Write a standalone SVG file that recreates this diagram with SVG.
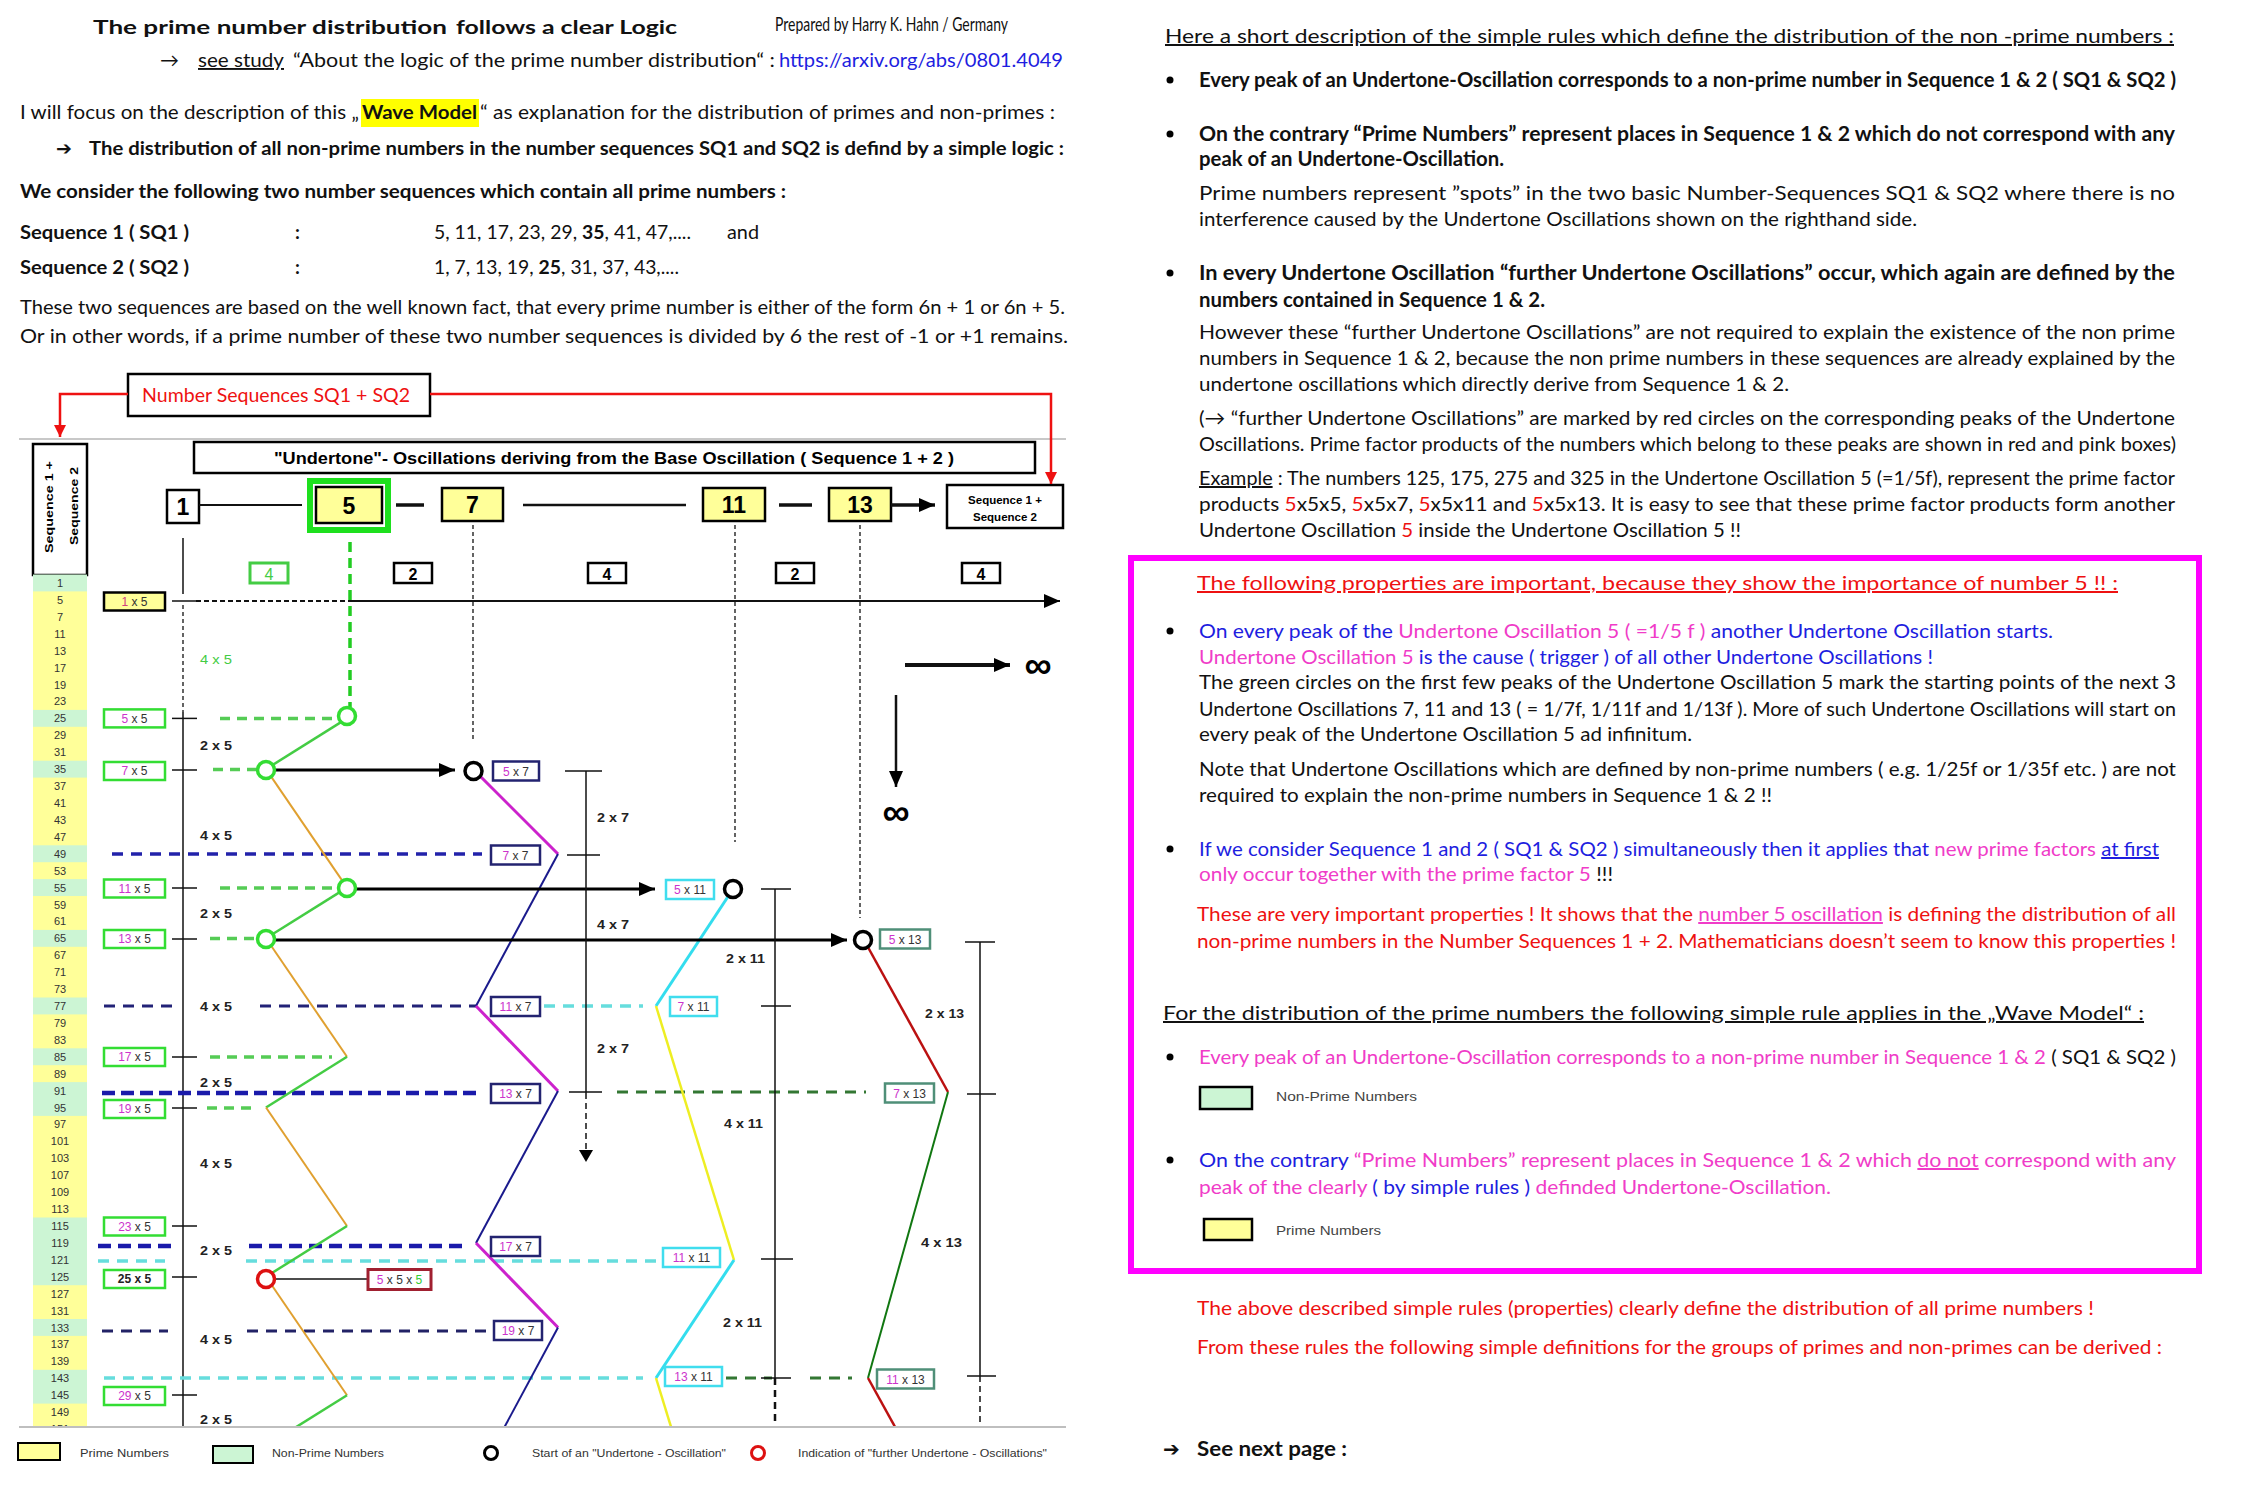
<svg xmlns="http://www.w3.org/2000/svg" width="2241" height="1490" viewBox="0 0 2241 1490">
<defs>
<style>
.t{font-family:Lato,"DejaVu Sans",sans-serif;font-size:19px;fill:#111}
.r{font-family:Lato,"DejaVu Sans",sans-serif;font-size:20px;fill:#111}
.b{font-weight:bold}
.u{text-decoration:underline}
.a{font-family:"Liberation Sans",Arial,sans-serif}
.lbl{font-family:"Liberation Sans",Arial,sans-serif;font-size:13.5px;font-weight:bold;fill:#222}
.pb{font-family:"Liberation Sans",Arial,sans-serif;font-size:12px;fill:#333;text-anchor:middle}
.pk{fill:#CC33CC}
.blu{fill:#1E1EE0}
.mag{fill:#F03CC8}
.red{fill:#EE1111}
.bx5{fill:#fff;stroke:#33DD33;stroke-width:2.5}
.bx7{fill:#fff;stroke:#232370;stroke-width:2.5}
.bx11{fill:#fff;stroke:#40DDEE;stroke-width:2.5}
.bx13{fill:#fff;stroke:#4F8F78;stroke-width:2.5}
.kb{fill:#FFFF99;stroke:#000;stroke-width:2.5}
.sb{fill:#fff;stroke:#000;stroke-width:2.5}
.tick{stroke:#111;stroke-width:1.5}
.vl{stroke:#111;stroke-width:1.5;fill:none}
.dl{stroke:#111;stroke-width:1.3;stroke-dasharray:4 3;fill:none}
.gd{stroke:#55CC55;stroke-width:3.5;stroke-dasharray:10 7;fill:none}
.nd{stroke:#2222AA;stroke-width:3.5;stroke-dasharray:11 8;fill:none}
.cd{stroke:#66DDDD;stroke-width:3.5;stroke-dasharray:11 8;fill:none}
.dgd{stroke:#337733;stroke-width:3;stroke-dasharray:11 8;fill:none}
.ring{fill:#fff;stroke:#000;stroke-width:3.5}
.gring{fill:#fff;stroke:#33DD33;stroke-width:3.5}
.rring{fill:#fff;stroke:#DD1111;stroke-width:3.5}
.yel{fill:#FFFF99}
.grn{fill:#CCF5D4}
</style>
<marker id="ah" markerUnits="userSpaceOnUse" markerWidth="16" markerHeight="14" refX="16" refY="7" orient="auto"><path d="M0,0L16,7L0,14z" fill="#000"/></marker>
<marker id="ahs" markerUnits="userSpaceOnUse" markerWidth="12" markerHeight="14" refX="12" refY="7" orient="auto"><path d="M0,0L12,7L0,14z" fill="#000"/></marker>
<marker id="ahr" markerUnits="userSpaceOnUse" markerWidth="12" markerHeight="16" refX="12" refY="8" orient="auto"><path d="M0,2L12,8L0,14z" fill="#EE1111"/></marker>
<clipPath id="clipd"><rect x="0" y="430" width="1100" height="996"/></clipPath>
</defs>
<rect width="2241" height="1490" fill="#fff"/>

<!-- LEFT TEXT -->
<g id="left-text">
<text class="t b" x="93" y="34" font-size="25" textLength="354" lengthAdjust="spacingAndGlyphs">The prime number distribution</text>
<text class="t b" x="456" y="34" font-size="25" textLength="221" lengthAdjust="spacingAndGlyphs">follows a clear Logic</text>
<text class="t" x="775" y="31" font-size="12" textLength="233" lengthAdjust="spacingAndGlyphs">Prepared by Harry K. Hahn / Germany</text>
<text class="t" x="160" y="67" font-size="19">→</text>
<text class="t u" x="198" y="67" textLength="86" lengthAdjust="spacingAndGlyphs">see study</text>
<text class="t" x="293" y="67" textLength="482" lengthAdjust="spacingAndGlyphs">“About the logic of the prime number distribution“ :</text>
<text class="t" x="779" y="67" textLength="284" lengthAdjust="spacingAndGlyphs" style="fill:#1E1EE0">https://arxiv.org/abs/0801.4049</text>
<rect x="361" y="99" width="118" height="28" fill="#FFFF00"/>
<text class="t" x="20" y="119" textLength="339" lengthAdjust="spacingAndGlyphs">I will focus on the description of this „</text>
<text class="t b" x="362" y="119" textLength="115" lengthAdjust="spacingAndGlyphs">Wave Model</text>
<text class="t" x="480" y="119" textLength="575" lengthAdjust="spacingAndGlyphs">“ as explanation for the distribution of primes and non-primes :</text>
<text class="t b" x="56" y="155" font-size="19">➔</text>
<text class="t b" x="89" y="155" textLength="975" lengthAdjust="spacingAndGlyphs">The distribution of all non-prime numbers in the number sequences SQ1 and SQ2 is defind by a simple logic :</text>
<text class="t b" x="20" y="198" textLength="766" lengthAdjust="spacingAndGlyphs">We consider the following two number sequences which contain all prime numbers :</text>
<text class="t b" x="20" y="239" textLength="169" lengthAdjust="spacingAndGlyphs">Sequence 1 ( SQ1 )</text>
<text class="t b" x="295" y="239">:</text>
<text class="t" x="434" y="239" textLength="257" lengthAdjust="spacingAndGlyphs">5, 11, 17, 23, 29, <tspan class="b">35</tspan>, 41, 47,....</text>
<text class="t" x="727" y="239" textLength="32" lengthAdjust="spacingAndGlyphs">and</text>
<text class="t b" x="20" y="274" textLength="169" lengthAdjust="spacingAndGlyphs">Sequence 2 ( SQ2 )</text>
<text class="t b" x="295" y="274">:</text>
<text class="t" x="434" y="274" textLength="245" lengthAdjust="spacingAndGlyphs">1, 7, 13, 19, <tspan class="b">25</tspan>, 31, 37, 43,....</text>
<text class="t" x="20" y="314" textLength="1045" lengthAdjust="spacingAndGlyphs">These two sequences are based on the well known fact, that every prime number is either of the form  6n + 1  or  6n + 5.</text>
<text class="t" x="20" y="343" textLength="1048" lengthAdjust="spacingAndGlyphs">Or in other words, if a  prime number of these two number sequences is divided by 6 the rest of -1 or +1 remains.</text>
</g>

<!-- DIAGRAM -->
<g id="header-nodes">
<g id="node-numseq">
<rect class="sb" x="128" y="374" width="302" height="42" stroke-width="3.5"/>
<text class="t" x="142" y="402" font-size="19" textLength="268" lengthAdjust="spacingAndGlyphs" style="fill:#EE1111">Number Sequences SQ1 + SQ2</text>
</g>
<line x1="19" y1="439" x2="1066" y2="439" stroke="#C8C8C8" stroke-width="2"/>
<g id="node-undertone">
<rect class="sb" x="194" y="442" width="841" height="31" stroke-width="3"/>
<text class="a b" x="274" y="464" font-size="17" textLength="680" lengthAdjust="spacingAndGlyphs">"Undertone"- Oscillations deriving from the Base Oscillation ( Sequence 1 + 2 )</text>
</g>
<g id="node-seqcol">
<rect class="sb" x="33" y="444" width="54" height="131"/>
<text class="a b" font-size="11" transform="translate(53,553) rotate(-90)" textLength="92" lengthAdjust="spacingAndGlyphs">Sequence  1  +</text>
<text class="a b" font-size="11" transform="translate(78,545) rotate(-90)" textLength="78" lengthAdjust="spacingAndGlyphs">Sequence  2</text>
</g>
<g id="node-b1"><rect class="sb" x="167" y="490" width="32" height="33"/><text class="a b" x="183" y="515" font-size="23" text-anchor="middle">1</text></g>
<g id="node-b5">
<rect x="307" y="478" width="84" height="55" fill="#1EE01E"/>
<rect x="313" y="484" width="72" height="43" fill="#fff"/>
<rect class="kb" x="316" y="487" width="66" height="36"/>
<text class="a b" x="349" y="514" font-size="23" text-anchor="middle">5</text>
</g>
<g id="node-b7"><rect class="kb" x="442" y="488" width="61" height="33"/><text class="a b" x="472.5" y="513" font-size="23" text-anchor="middle">7</text></g>
<g id="node-b11"><rect class="kb" x="703" y="488" width="62" height="33"/><text class="a b" x="734" y="513" font-size="23" text-anchor="middle">11</text></g>
<g id="node-b13"><rect class="kb" x="829" y="488" width="62" height="33"/><text class="a b" x="860" y="513" font-size="23" text-anchor="middle">13</text></g>
<g id="node-seq12"><rect class="sb" x="947" y="485" width="116" height="43"/>
<text class="a b" x="1005" y="504" font-size="11.5" text-anchor="middle">Sequence  1  +</text>
<text class="a b" x="1005" y="521" font-size="11.5" text-anchor="middle">Sequence  2</text></g>
<g id="gaps">
<rect x="250" y="563" width="38" height="20" fill="#fff" stroke="#44CC44" stroke-width="3"/><text class="a" x="269" y="580" font-size="16" text-anchor="middle" fill="#44CC44">4</text>
<rect class="sb" x="394" y="563" width="38" height="20"/><text class="a b" x="413" y="580" font-size="16" text-anchor="middle">2</text>
<rect class="sb" x="588" y="563" width="38" height="20"/><text class="a b" x="607" y="580" font-size="16" text-anchor="middle">4</text>
<rect class="sb" x="776" y="563" width="38" height="20"/><text class="a b" x="795" y="580" font-size="16" text-anchor="middle">2</text>
<rect class="sb" x="962" y="563" width="38" height="20"/><text class="a b" x="981" y="580" font-size="16" text-anchor="middle">4</text>
</g>
</g>

<g id="numcol">
<rect class="yel" x="33" y="575" width="54" height="851"/>
<rect class="grn" x="33" y="574.5" width="54" height="16.9"/>
<rect class="grn" x="33" y="709.9" width="54" height="16.9"/>
<rect class="grn" x="33" y="760.7" width="54" height="16.9"/>
<rect class="grn" x="33" y="845.3" width="54" height="16.9"/>
<rect class="grn" x="33" y="879.1" width="54" height="16.9"/>
<rect class="grn" x="33" y="929.9" width="54" height="16.9"/>
<rect class="grn" x="33" y="997.5" width="54" height="16.9"/>
<rect class="grn" x="33" y="1048.3" width="54" height="16.9"/>
<rect class="grn" x="33" y="1082.1" width="54" height="33.8"/>
<rect class="grn" x="33" y="1217.5" width="54" height="67.7"/>
<rect class="grn" x="33" y="1319.0" width="54" height="16.9"/>
<rect class="grn" x="33" y="1369.8" width="54" height="33.8"/>
<g class="a" font-size="11" fill="#333" text-anchor="middle" clip-path="url(#clipd)">
<text x="60" y="587">1</text><text x="60" y="603.9">5</text><text x="60" y="620.8">7</text><text x="60" y="637.8">11</text><text x="60" y="654.7">13</text><text x="60" y="671.6">17</text><text x="60" y="688.5">19</text><text x="60" y="705.4">23</text><text x="60" y="722.4">25</text><text x="60" y="739.3">29</text><text x="60" y="756.2">31</text><text x="60" y="773.1">35</text><text x="60" y="790">37</text><text x="60" y="807">41</text><text x="60" y="823.9">43</text><text x="60" y="840.8">47</text><text x="60" y="857.7">49</text><text x="60" y="874.6">53</text><text x="60" y="891.6">55</text><text x="60" y="908.5">59</text><text x="60" y="925.4">61</text><text x="60" y="942.3">65</text><text x="60" y="959.2">67</text><text x="60" y="976.2">71</text><text x="60" y="993.1">73</text><text x="60" y="1010">77</text><text x="60" y="1026.9">79</text><text x="60" y="1043.8">83</text><text x="60" y="1060.8">85</text><text x="60" y="1077.7">89</text><text x="60" y="1094.6">91</text><text x="60" y="1111.5">95</text><text x="60" y="1128.4">97</text><text x="60" y="1145.4">101</text><text x="60" y="1162.3">103</text><text x="60" y="1179.2">107</text><text x="60" y="1196.1">109</text><text x="60" y="1213">113</text><text x="60" y="1230">115</text><text x="60" y="1246.9">119</text><text x="60" y="1263.8">121</text><text x="60" y="1280.7">125</text><text x="60" y="1297.6">127</text><text x="60" y="1314.6">131</text><text x="60" y="1331.5">133</text><text x="60" y="1348.4">137</text><text x="60" y="1365.3">139</text><text x="60" y="1382.2">143</text><text x="60" y="1399.2">145</text><text x="60" y="1416.1">149</text><text x="60" y="1433">151</text>
</g>
</g>

<g id="connectors">
<polyline points="128,394 60,394 60,437" fill="none" stroke="#EE1111" stroke-width="2.5" marker-end="url(#ahr)"/>
<polyline points="430,394 1051,394 1051,484" fill="none" stroke="#EE1111" stroke-width="2.5" marker-end="url(#ahr)"/>
<g clip-path="url(#clipd)">
<line x1="199" y1="505" x2="302" y2="505" stroke="#111" stroke-width="2"/>
<line x1="396" y1="505" x2="424" y2="505" stroke="#111" stroke-width="3.5"/>
<line x1="523" y1="505" x2="686" y2="505" stroke="#111" stroke-width="2.5"/>
<line x1="779" y1="505" x2="812" y2="505" stroke="#111" stroke-width="3.5"/>
<line x1="891" y1="505" x2="935" y2="505" stroke="#111" stroke-width="3.5" marker-end="url(#ah)"/>
<line class="vl" x1="183" y1="538" x2="183" y2="594"/>
<line class="dl" x1="183" y1="605" x2="183" y2="712"/>
<line class="vl" x1="183" y1="712" x2="183" y2="1426"/>
<line x1="350" y1="542" x2="350" y2="707" stroke="#22CC22" stroke-width="3.5" stroke-dasharray="10 6"/>
<line class="dl" x1="473" y1="525" x2="473" y2="742"/>
<line class="dl" x1="735" y1="525" x2="735" y2="842"/>
<line class="dl" x1="860" y1="525" x2="860" y2="918"/>
<line x1="196" y1="601" x2="350" y2="601" stroke="#111" stroke-width="2" stroke-dasharray="5 3"/>
<line x1="350" y1="601" x2="1060" y2="601" stroke="#111" stroke-width="2" marker-end="url(#ah)"/>
<line x1="905" y1="665" x2="1010" y2="665" stroke="#111" stroke-width="4" marker-end="url(#ah)"/>
<line x1="896" y1="695" x2="896" y2="787" stroke="#111" stroke-width="2.5" marker-end="url(#ah)"/>
<g class="tick">
<line x1="172" y1="601" x2="197" y2="601"/><line x1="172" y1="718.4" x2="197" y2="718.4"/><line x1="172" y1="770" x2="197" y2="770"/><line x1="172" y1="888" x2="197" y2="888"/><line x1="172" y1="939" x2="197" y2="939"/><line x1="172" y1="1057" x2="197" y2="1057"/><line x1="172" y1="1108" x2="197" y2="1108"/><line x1="172" y1="1226" x2="197" y2="1226"/><line x1="172" y1="1277" x2="197" y2="1277"/><line x1="172" y1="1395" x2="197" y2="1395"/>
</g>
<line class="gd" x1="220" y1="718.4" x2="337" y2="718.4"/>
<line class="gd" x1="213" y1="769.5" x2="257" y2="769.5"/>
<line class="gd" x1="220" y1="888" x2="337" y2="888"/>
<line class="gd" x1="210" y1="938.5" x2="257" y2="938.5"/>
<line class="gd" x1="210" y1="1057" x2="332" y2="1057"/>
<line class="gd" x1="207" y1="1108" x2="258" y2="1108"/>
<line class="nd" x1="112" y1="854" x2="482" y2="854" stroke-width="3"/>
<line class="nd" x1="104" y1="1006" x2="172" y2="1006" style="stroke:#222277;stroke-width:3"/>
<line class="nd" x1="260" y1="1006" x2="477" y2="1006" style="stroke:#222277;stroke-width:3"/>
<line class="nd" x1="102" y1="1093" x2="482" y2="1093" style="stroke:#1A1AAA;stroke-width:4.5;stroke-dasharray:13 6"/>
<line class="nd" x1="98" y1="1246" x2="172" y2="1246" style="stroke:#1A1AAA;stroke-width:4.5;stroke-dasharray:13 7"/>
<line class="nd" x1="249" y1="1246" x2="462" y2="1246" style="stroke:#1A1AAA;stroke-width:4.5;stroke-dasharray:13 7"/>
<line class="nd" x1="102" y1="1331" x2="168" y2="1331" style="stroke:#222266;stroke-width:3"/>
<line class="nd" x1="247" y1="1331" x2="490" y2="1331" style="stroke:#222266;stroke-width:3"/>
<line class="cd" x1="544" y1="1006" x2="643" y2="1006"/>
<line class="cd" x1="98" y1="1261" x2="165" y2="1261"/>
<line class="cd" x1="246" y1="1261" x2="663" y2="1261"/>
<line class="cd" x1="104" y1="1378" x2="643" y2="1378"/>
<line class="dgd" x1="617" y1="1092" x2="866" y2="1092"/>
<line class="dgd" x1="726" y1="1378" x2="772" y2="1378"/>
<line class="dgd" x1="810" y1="1378" x2="852" y2="1378"/>
<g stroke-width="2.5" fill="none">
<line x1="347" y1="718.4" x2="266" y2="769.1" stroke="#44CC44"/>
<line x1="266" y1="769.1" x2="347" y2="887.6" stroke="#E0A030" stroke-width="2"/>
<line x1="347" y1="887.6" x2="266" y2="938.3" stroke="#44CC44"/>
<line x1="266" y1="938.3" x2="347" y2="1056.8" stroke="#E0A030" stroke-width="2"/>
<line x1="347" y1="1056.8" x2="266" y2="1107.5" stroke="#44CC44"/>
<line x1="266" y1="1107.5" x2="347" y2="1226" stroke="#E0A030" stroke-width="2"/>
<line x1="347" y1="1226" x2="266" y2="1276.7" stroke="#44CC44"/>
<line x1="266" y1="1276.7" x2="347" y2="1395.2" stroke="#E0A030" stroke-width="2"/>
<line x1="347" y1="1395.2" x2="266" y2="1445.9" stroke="#44CC44"/>
</g>
<g stroke-width="3" fill="none">
<line x1="474" y1="770" x2="558" y2="854" stroke="#CC22CC"/>
<line x1="558" y1="854" x2="476" y2="1006" stroke="#1A1A8C" stroke-width="2"/>
<line x1="476" y1="1006" x2="558" y2="1091" stroke="#CC22CC"/>
<line x1="558" y1="1091" x2="476" y2="1243" stroke="#1A1A8C" stroke-width="2"/>
<line x1="476" y1="1243" x2="558" y2="1327.5" stroke="#CC22CC"/>
<line x1="558" y1="1327.5" x2="476" y2="1480" stroke="#1A1A8C" stroke-width="2"/>
</g>
<g stroke-width="3" fill="none">
<line x1="733" y1="889" x2="656" y2="1006" stroke="#33DDEE"/>
<line x1="656" y1="1006" x2="734" y2="1260" stroke="#EEEE22" stroke-width="2.5"/>
<line x1="734" y1="1260" x2="656" y2="1378" stroke="#33DDEE"/>
<line x1="656" y1="1378" x2="734" y2="1632" stroke="#EEEE22" stroke-width="2.5"/>
</g>
<g stroke-width="2.5" fill="none">
<line x1="864" y1="940" x2="948" y2="1092" stroke="#BB1111"/>
<line x1="948" y1="1092" x2="868" y2="1378" stroke="#117711" stroke-width="2"/>
<line x1="868" y1="1378" x2="952" y2="1530" stroke="#BB1111"/>
</g>
<line x1="275" y1="770" x2="455" y2="770" stroke="#000" stroke-width="3" marker-end="url(#ah)"/>
<line x1="355" y1="889" x2="655" y2="889" stroke="#000" stroke-width="3" marker-end="url(#ah)"/>
<line x1="275" y1="940" x2="847" y2="940" stroke="#000" stroke-width="3" marker-end="url(#ah)"/>
<line class="vl" x1="586" y1="771" x2="586" y2="1093"/>
<line x1="586" y1="1093" x2="586" y2="1162" stroke="#111" stroke-width="1.5" stroke-dasharray="6 4" marker-end="url(#ahs)"/>
<line class="tick" x1="565" y1="771" x2="602" y2="771"/>
<line class="tick" x1="567" y1="855" x2="600" y2="855"/>
<line class="tick" x1="569" y1="1092" x2="602" y2="1092"/>
<line class="vl" x1="775" y1="889" x2="775" y2="1378"/>
<line x1="775" y1="1378" x2="775" y2="1426" stroke="#111" stroke-width="2.5" stroke-dasharray="7 5"/>
<line class="tick" x1="761" y1="889" x2="791" y2="889"/>
<line class="tick" x1="761" y1="1006" x2="791" y2="1006"/>
<line class="tick" x1="761" y1="1259" x2="793" y2="1259"/>
<line class="tick" x1="761" y1="1378" x2="791" y2="1378"/>
<line class="vl" x1="980" y1="942" x2="980" y2="1376"/>
<line x1="980" y1="1376" x2="980" y2="1426" stroke="#111" stroke-width="1.5" stroke-dasharray="6 4"/>
<line class="tick" x1="965" y1="942" x2="995" y2="942"/>
<line class="tick" x1="967" y1="1094" x2="996" y2="1094"/>
<line class="tick" x1="967" y1="1376" x2="996" y2="1376"/>
<line x1="274" y1="1279" x2="368" y2="1279" stroke="#111" stroke-width="1.5"/>
</g>
</g>

<g id="circles">
<circle class="gring" cx="347" cy="716" r="8.5"/>
<circle class="gring" cx="266" cy="770" r="8.5"/>
<circle class="gring" cx="347" cy="888" r="8.5"/>
<circle class="gring" cx="266" cy="939" r="8.5"/>
<circle class="rring" cx="266" cy="1279" r="8.5"/>
<circle class="ring" cx="473.5" cy="771" r="8.5"/>
<circle class="ring" cx="733" cy="889" r="8.5"/>
<circle class="ring" cx="863" cy="940" r="8.5"/>
</g>

<g id="nodes-x5">
<rect class="kb" x="104" y="592.5" width="61" height="18"/><text class="pb" x="134.5" y="606"><tspan fill="#D04080">1</tspan> x 5</text>
<rect class="bx5" x="104" y="709.4" width="61" height="18"/><text class="pb" x="134.5" y="722.8"><tspan class="pk">5</tspan> x 5</text>
<rect class="bx5" x="104" y="762" width="61" height="18"/><text class="pb" x="134.5" y="775.4"><tspan class="pk">7</tspan> x 5</text>
<rect class="bx5" x="104" y="879.5" width="61" height="18"/><text class="pb" x="134.5" y="893"><tspan class="pk">11</tspan> x 5</text>
<rect class="bx5" x="104" y="930" width="61" height="18"/><text class="pb" x="134.5" y="943.4"><tspan class="pk">13</tspan> x 5</text>
<rect class="bx5" x="104" y="1048" width="61" height="18"/><text class="pb" x="134.5" y="1061.4"><tspan class="pk">17</tspan> x 5</text>
<rect class="bx5" x="104" y="1100" width="61" height="18"/><text class="pb" x="134.5" y="1113.4"><tspan class="pk">19</tspan> x 5</text>
<rect class="bx5" x="104" y="1217.5" width="61" height="18"/><text class="pb" x="134.5" y="1230.9"><tspan class="pk">23</tspan> x 5</text>
<rect class="bx5" x="104" y="1270" width="61" height="18"/><text class="pb b" x="134.5" y="1283.4" style="fill:#222">25 x 5</text>
<rect class="bx5" x="104" y="1387" width="61" height="18"/><text class="pb" x="134.5" y="1400.4"><tspan class="pk">29</tspan> x 5</text>
</g>
<g id="nodes-x7">
<rect class="bx7" x="493" y="761.5" width="46" height="19"/><text class="pb" x="516" y="775.5"><tspan class="pk">5</tspan> x 7</text>
<rect class="bx7" x="491" y="845.5" width="49" height="19"/><text class="pb" x="515.5" y="859.5"><tspan class="pk">7</tspan> x 7</text>
<rect class="bx7" x="491" y="997" width="49" height="19"/><text class="pb" x="515.5" y="1011"><tspan class="pk">11</tspan> x 7</text>
<rect class="bx7" x="491" y="1084" width="49" height="19"/><text class="pb" x="515.5" y="1098"><tspan class="pk">13</tspan> x 7</text>
<rect class="bx7" x="491" y="1237" width="49" height="19"/><text class="pb" x="515.5" y="1251"><tspan class="pk">17</tspan> x 7</text>
<rect class="bx7" x="494" y="1321" width="48" height="19"/><text class="pb" x="518" y="1335"><tspan class="pk">19</tspan> x 7</text>
</g>
<g id="nodes-x11">
<rect class="bx11" x="666" y="880" width="48" height="19"/><text class="pb" x="690" y="894"><tspan class="pk">5</tspan> x 11</text>
<rect class="bx11" x="670" y="997" width="47" height="19"/><text class="pb" x="693.5" y="1011"><tspan class="pk">7</tspan> x 11</text>
<rect class="bx11" x="663" y="1248" width="57" height="19"/><text class="pb" x="691.5" y="1262"><tspan class="pk">11</tspan> x 11</text>
<rect class="bx11" x="665" y="1367" width="57" height="19"/><text class="pb" x="693.5" y="1381"><tspan class="pk">13</tspan> x 11</text>
</g>
<g id="nodes-x13">
<rect class="bx13" x="880" y="929.5" width="50" height="19"/><text class="pb" x="905" y="943.5"><tspan class="pk">5</tspan> x 13</text>
<rect class="bx13" x="885" y="1083.5" width="49" height="19"/><text class="pb" x="909.5" y="1097.5"><tspan class="pk">7</tspan> x 13</text>
<rect class="bx13" x="877" y="1369.5" width="57" height="19"/><text class="pb" x="905.5" y="1383.5"><tspan class="pk">11</tspan> x 13</text>
</g>
<g id="node-5x5x5">
<rect x="368" y="1269.5" width="63" height="20" fill="#fff" stroke="#A02030" stroke-width="3"/>
<text class="pb" x="399.5" y="1284"><tspan class="pk">5</tspan> x 5 x <tspan fill="#33CC33">5</tspan></text>
</g>

<g id="labels">
<text class="lbl" x="200" y="664" style="fill:#44CC44;font-weight:normal" textLength="32" lengthAdjust="spacingAndGlyphs">4 x 5</text>
<text class="lbl" x="200" y="750" textLength="32" lengthAdjust="spacingAndGlyphs">2 x 5</text>
<text class="lbl" x="200" y="840" textLength="32" lengthAdjust="spacingAndGlyphs">4 x 5</text>
<text class="lbl" x="200" y="918" textLength="32" lengthAdjust="spacingAndGlyphs">2 x 5</text>
<text class="lbl" x="200" y="1011" textLength="32" lengthAdjust="spacingAndGlyphs">4 x 5</text>
<text class="lbl" x="200" y="1087" textLength="32" lengthAdjust="spacingAndGlyphs">2 x 5</text>
<text class="lbl" x="200" y="1168" textLength="32" lengthAdjust="spacingAndGlyphs">4 x 5</text>
<text class="lbl" x="200" y="1255" textLength="32" lengthAdjust="spacingAndGlyphs">2 x 5</text>
<text class="lbl" x="200" y="1344" textLength="32" lengthAdjust="spacingAndGlyphs">4 x 5</text>
<text class="lbl" x="200" y="1424" textLength="32" lengthAdjust="spacingAndGlyphs">2 x 5</text>
<text class="lbl" x="597" y="822" textLength="32" lengthAdjust="spacingAndGlyphs">2 x 7</text>
<text class="lbl" x="597" y="929" textLength="32" lengthAdjust="spacingAndGlyphs">4 x 7</text>
<text class="lbl" x="597" y="1053" textLength="32" lengthAdjust="spacingAndGlyphs">2 x 7</text>
<text class="lbl" x="726" y="963" textLength="39" lengthAdjust="spacingAndGlyphs">2 x 11</text>
<text class="lbl" x="724" y="1128" textLength="39" lengthAdjust="spacingAndGlyphs">4 x 11</text>
<text class="lbl" x="723" y="1327" textLength="39" lengthAdjust="spacingAndGlyphs">2 x 11</text>
<text class="lbl" x="925" y="1018" textLength="39" lengthAdjust="spacingAndGlyphs">2 x 13</text>
<text class="lbl" x="921" y="1247" textLength="41" lengthAdjust="spacingAndGlyphs">4 x 13</text>
<text class="a b" x="1038" y="678" font-size="38" text-anchor="middle">∞</text>
<text class="a b" x="896" y="825" font-size="38" text-anchor="middle">∞</text>
</g>

<g id="legend-bottom">
<line x1="19" y1="1427" x2="1066" y2="1427" stroke="#AAA" stroke-width="1.5"/>
<rect x="18" y="1443" width="42" height="17" fill="#FFFF99" stroke="#000" stroke-width="2"/>
<text class="a" x="80" y="1457" font-size="11" fill="#333" textLength="89" lengthAdjust="spacingAndGlyphs">Prime  Numbers</text>
<rect x="213" y="1446" width="40" height="17" fill="#CCF5D4" stroke="#000" stroke-width="2"/>
<text class="a" x="272" y="1457" font-size="11" fill="#333" textLength="112" lengthAdjust="spacingAndGlyphs">Non-Prime Numbers</text>
<circle cx="491" cy="1453" r="6.5" fill="#fff" stroke="#000" stroke-width="3"/>
<text class="a" x="532" y="1457" font-size="11" fill="#333" textLength="194" lengthAdjust="spacingAndGlyphs">Start of an "Undertone - Oscillation"</text>
<circle cx="758" cy="1453" r="6.5" fill="#fff" stroke="#DD1111" stroke-width="3"/>
<text class="a" x="798" y="1457" font-size="11" fill="#333" textLength="249" lengthAdjust="spacingAndGlyphs">Indication of "further Undertone - Oscillations"</text>
</g>

<g id="right-text">
<text class="r u" x="1165" y="43" font-size="21" textLength="1009" lengthAdjust="spacingAndGlyphs">Here a short description of the simple rules which define the distribution of the non -prime numbers :</text>
<circle cx="1170" cy="80" r="3.5" fill="#000"/>
<text class="r b" x="1199" y="87" textLength="977" lengthAdjust="spacingAndGlyphs">Every peak of an Undertone-Oscillation corresponds to a non-prime number in Sequence 1 &amp; 2  ( SQ1 &amp; SQ2 )</text>
<circle cx="1170" cy="134" r="3.5" fill="#000"/>
<text class="r b" x="1199" y="141" textLength="976" lengthAdjust="spacingAndGlyphs">On the contrary “Prime Numbers” represent places in Sequence 1 &amp; 2  which do not correspond with any</text>
<text class="r b" x="1199" y="166" textLength="305" lengthAdjust="spacingAndGlyphs">peak of an Undertone-Oscillation.</text>
<text class="r" x="1199" y="200" textLength="976" lengthAdjust="spacingAndGlyphs">Prime numbers represent ”spots” in the two basic Number-Sequences SQ1 &amp; SQ2  where there is no</text>
<text class="r" x="1199" y="226" textLength="718" lengthAdjust="spacingAndGlyphs">interference caused by the Undertone Oscillations shown on the righthand side.</text>
<circle cx="1170" cy="273" r="3.5" fill="#000"/>
<text class="r b" x="1199" y="280" textLength="976" lengthAdjust="spacingAndGlyphs">In every Undertone Oscillation “further  Undertone Oscillations” occur, which again are defined by the</text>
<text class="r b" x="1199" y="307" textLength="346" lengthAdjust="spacingAndGlyphs">numbers contained in Sequence 1 &amp; 2.</text>
<text class="r" x="1199" y="339" textLength="976" lengthAdjust="spacingAndGlyphs">However these “further Undertone Oscillations” are not required to explain the existence of the non prime</text>
<text class="r" x="1199" y="365" textLength="976" lengthAdjust="spacingAndGlyphs">numbers in Sequence 1 &amp; 2, because the non prime numbers in these sequences are already explained by the</text>
<text class="r" x="1199" y="391" textLength="590" lengthAdjust="spacingAndGlyphs">undertone oscillations which directly derive from Sequence 1 &amp; 2.</text>
<text class="r" x="1199" y="425" textLength="976" lengthAdjust="spacingAndGlyphs">(→ “further Undertone Oscillations” are marked by red circles on the corresponding peaks of the Undertone</text>
<text class="r" x="1199" y="451" textLength="977" lengthAdjust="spacingAndGlyphs">Oscillations. Prime factor products of the numbers which belong to these peaks are shown in red and pink boxes)</text>
<text class="r" x="1199" y="485" textLength="976" lengthAdjust="spacingAndGlyphs"><tspan class="u">Example</tspan> : The numbers 125, 175, 275 and 325 in the Undertone Oscillation 5 (=1/5f), represent the prime factor</text>
<text class="r" x="1199" y="511" textLength="976" lengthAdjust="spacingAndGlyphs">products <tspan class="red">5</tspan>x5x5, <tspan class="red">5</tspan>x5x7, <tspan class="red">5</tspan>x5x11 and <tspan class="red">5</tspan>x5x13.  It is easy to see that these prime factor products form another</text>
<text class="r" x="1199" y="537" textLength="542" lengthAdjust="spacingAndGlyphs">Undertone Oscillation <tspan class="red">5</tspan> inside the Undertone Oscillation 5 !!</text>
</g>

<g id="important-box">
<rect x="1131" y="558" width="1068" height="713" fill="none" stroke="#FF00FF" stroke-width="6"/>
<text class="r u red" x="1197" y="590" textLength="921" lengthAdjust="spacingAndGlyphs">The following properties are important, because they show the importance of number 5  !! :</text>
<circle cx="1170" cy="631" r="3.5" fill="#000"/>
<text class="r blu" x="1199" y="638" textLength="854" lengthAdjust="spacingAndGlyphs">On every peak of the <tspan class="mag">Undertone Oscillation 5  ( =1/5 f )</tspan> another  Undertone Oscillation starts.</text>
<text class="r blu" x="1199" y="664" textLength="734" lengthAdjust="spacingAndGlyphs"><tspan class="mag">Undertone Oscillation 5</tspan> is the cause ( trigger ) of all other Undertone Oscillations !</text>
<text class="r" x="1199" y="689" textLength="977" lengthAdjust="spacingAndGlyphs">The green circles on the first few peaks of the Undertone Oscillation 5 mark the starting points of the next 3</text>
<text class="r" x="1199" y="716" textLength="977" lengthAdjust="spacingAndGlyphs">Undertone Oscillations 7, 11 and 13 ( = 1/7f, 1/11f and 1/13f ). More of such Undertone Oscillations will start on</text>
<text class="r" x="1199" y="741" textLength="493" lengthAdjust="spacingAndGlyphs">every peak of the Undertone Oscillation 5 ad infinitum.</text>
<text class="r" x="1199" y="776" textLength="977" lengthAdjust="spacingAndGlyphs">Note that Undertone Oscillations which are defined by non-prime numbers ( e.g. 1/25f or 1/35f etc. ) are not</text>
<text class="r" x="1199" y="802" textLength="573" lengthAdjust="spacingAndGlyphs">required to explain the non-prime numbers in Sequence 1 &amp; 2 !!</text>
<circle cx="1170" cy="849" r="3.5" fill="#000"/>
<text class="r blu" x="1199" y="856" textLength="960" lengthAdjust="spacingAndGlyphs">If we consider Sequence 1 and 2  ( SQ1 &amp; SQ2 ) simultaneously then it applies that <tspan class="mag">new prime factors</tspan> <tspan class="u">at first</tspan></text>
<text class="r" x="1199" y="881" textLength="414" lengthAdjust="spacingAndGlyphs"><tspan class="mag">only occur together with the prime factor 5</tspan>  !!!</text>
<text class="r red" x="1197" y="921" textLength="979" lengthAdjust="spacingAndGlyphs">These are very important properties !   It shows that the <tspan class="mag u">number 5 oscillation</tspan> is defining the distribution of all</text>
<text class="r red" x="1197" y="948" textLength="979" lengthAdjust="spacingAndGlyphs">non-prime numbers in the Number Sequences 1 + 2.    Mathematicians doesn’t seem to know this properties !</text>
<text class="r u" x="1163" y="1020" font-size="21" textLength="981" lengthAdjust="spacingAndGlyphs">For the distribution of the prime numbers the following simple rule applies in the „Wave Model“ :</text>
<circle cx="1170" cy="1057" r="3.5" fill="#000"/>
<text class="r" x="1199" y="1064" textLength="977" lengthAdjust="spacingAndGlyphs"><tspan class="mag">Every peak of an Undertone-Oscillation corresponds to a non-prime number in Sequence 1 &amp; 2</tspan>  ( SQ1 &amp; SQ2 )</text>
<rect x="1200" y="1087" width="52" height="22" fill="#CCF5D4" stroke="#000" stroke-width="2.5"/>
<text class="a" x="1276" y="1101" font-size="13" fill="#444" textLength="141" lengthAdjust="spacingAndGlyphs">Non-Prime Numbers</text>
<circle cx="1170" cy="1160" r="3.5" fill="#000"/>
<text class="r mag" x="1199" y="1167" textLength="977" lengthAdjust="spacingAndGlyphs"><tspan class="blu">On the contrary</tspan> “Prime Numbers” represent places in Sequence 1 &amp; 2  which <tspan class="u">do not</tspan> correspond with any</text>
<text class="r mag" x="1199" y="1194" textLength="632" lengthAdjust="spacingAndGlyphs">peak of the clearly <tspan class="blu">( by simple rules )</tspan> definded Undertone-Oscillation.</text>
<rect x="1204" y="1219" width="48" height="21" fill="#FFFF99" stroke="#000" stroke-width="2.5"/>
<text class="a" x="1276" y="1235" font-size="13" fill="#444" textLength="105" lengthAdjust="spacingAndGlyphs">Prime  Numbers</text>
</g>

<g id="right-bottom">
<text class="r red" x="1197" y="1315" textLength="897" lengthAdjust="spacingAndGlyphs">The above described simple rules (properties) clearly define the distribution of all prime numbers !</text>
<text class="r red" x="1197" y="1354" textLength="965" lengthAdjust="spacingAndGlyphs">From these rules the following simple definitions for the groups of primes and non-primes can be derived :</text>
<text class="r b" x="1163" y="1456" font-size="19">➔</text>
<text class="r b" x="1197" y="1456" textLength="150" lengthAdjust="spacingAndGlyphs">See next page :</text>
</g>
</svg>
